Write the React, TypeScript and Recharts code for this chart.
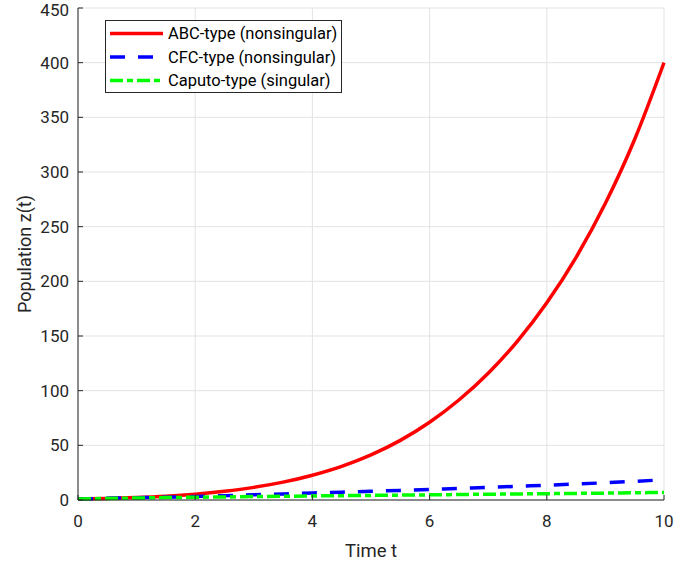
import React from "react";
import { LineChart, Line, XAxis, YAxis, CartesianGrid, Legend } from "recharts";

const timeT = [0, 0.5, 1, 1.5, 2, 2.5, 3, 3.5, 4, 4.5, 5, 5.5, 6, 6.5, 7, 7.5, 8, 8.5, 9, 9.5, 10];
const abcType = [1, 1.45, 2.2, 3.4, 5.25, 7.95, 11.55, 16.35, 22.65, 30.75, 41.25, 54.55, 71.15, 91.45, 115.95, 145.35, 180.35, 221.95, 271.35, 329.95, 400];
const cfcType = [1, 1.5, 2, 2.6, 3.2, 4, 4.8, 5.6, 6.5, 7.2, 8, 8.8, 9.7, 10.6, 11.5, 12.5, 13.5, 14.6, 15.8, 17.1, 18.5];
const caputoType = [1, 1.4, 1.8, 2.2, 2.5, 2.8, 3.1, 3.4, 3.7, 3.95, 4.2, 4.45, 4.7, 5, 5.3, 5.55, 5.8, 6.05, 6.3, 6.6, 6.9];

const xTicks = [0, 2, 4, 6, 8, 10];
const yTicks = [0, 50, 100, 150, 200, 250, 300, 350, 400, 450];

const seriesInfo = [
  { key: "abc", name: "ABC-type (nonsingular)", color: "#ff0000", dash: undefined as string | undefined },
  { key: "cfc", name: "CFC-type (nonsingular)", color: "#0000ff", dash: "15 13" },
  { key: "caputo", name: "Caputo-type (singular)", color: "#00ff00", dash: "13 4 6 4" },
];

const data = timeT.map((t, i) => ({ t, abc: abcType[i], cfc: cfcType[i], caputo: caputoType[i] }));

const FONT = "Roboto, 'Liberation Sans', Arial, sans-serif";
const AX = "#262626";

const renderLegend = () => (
  <div
    style={{
      width: 237,
      height: 73,
      border: `1px solid ${AX}`,
      background: "#fff",
      boxSizing: "border-box",
    }}
  >
    <svg width={235} height={71} style={{ display: "block" }}>
      {seriesInfo.map((s, i) => {
        const y = 12.5 + i * 23.5;
        return (
          <g key={s.key}>
            <line x1={4} x2={57} y1={y} y2={y} stroke={s.color} strokeWidth={3.5} strokeDasharray={s.dash} />
            <text x={62} y={y} dominantBaseline="central" fontFamily={FONT} fontSize={16.5} fill="#000">
              {s.name}
            </text>
          </g>
        );
      })}
    </svg>
  </div>
);

export default function App() {
  return (
    <div style={{ position: "absolute", left: 0, top: 0, background: "#fff" }}>
      <LineChart width={674} height={569} data={data} margin={{ top: 8, right: 10, bottom: 11, left: 18 }}>
        <CartesianGrid stroke="#e3e3e3" strokeWidth={1} />
        <XAxis
          dataKey="t"
          type="number"
          domain={[0, 10]}
          ticks={xTicks}
          height={58}
          tickSize={-5}
          tickMargin={20}
          stroke={AX}
          tick={{ fill: AX, fontSize: 17, fontFamily: FONT }}
          label={{ value: "Time t", position: "insideBottom", offset: 1, fill: AX, fontSize: 18.5, fontFamily: FONT }}
        />
        <XAxis
          xAxisId="top"
          orientation="top"
          type="number"
          domain={[0, 10]}
          ticks={xTicks}
          height={0}
          mirror
          tickSize={5}
          tick={false}
          stroke={AX}
        />
        <YAxis
          type="number"
          domain={[0, 450]}
          ticks={yTicks}
          width={60}
          tickSize={-5}
          tickMargin={14}
          stroke={AX}
          tick={{ fill: AX, fontSize: 17, fontFamily: FONT }}
          label={{
            content: () => (
              <text
                x={24}
                y={254}
                transform="rotate(-90 24 254)"
                textAnchor="middle"
                dominantBaseline="central"
                fill={AX}
                fontSize={18}
                fontFamily={FONT}
              >
                Population z(t)
              </text>
            ),
          }}
        />
        <YAxis
          yAxisId="right"
          orientation="right"
          type="number"
          domain={[0, 450]}
          ticks={yTicks}
          width={0}
          mirror
          tickSize={5}
          tick={false}
          stroke={AX}
        />
        <Legend
          layout="horizontal"
          align="center"
          verticalAlign="middle"
          content={renderLegend}
          wrapperStyle={{ position: "absolute", left: 105, top: 20, width: 237, height: 73 }}
        />
        <Line
          type="monotone"
          dataKey="abc"
          name={seriesInfo[0].name}
          stroke={seriesInfo[0].color}
          strokeWidth={3.5}
          dot={false}
          isAnimationActive={false}
        />
        <Line
          type="monotone"
          dataKey="cfc"
          name={seriesInfo[1].name}
          stroke={seriesInfo[1].color}
          strokeWidth={3.5}
          strokeDasharray={seriesInfo[1].dash}
          dot={false}
          isAnimationActive={false}
        />
        <Line
          type="monotone"
          dataKey="caputo"
          name={seriesInfo[2].name}
          stroke={seriesInfo[2].color}
          strokeWidth={3.5}
          strokeDasharray={seriesInfo[2].dash}
          dot={false}
          isAnimationActive={false}
        />
      </LineChart>
    </div>
  );
}
